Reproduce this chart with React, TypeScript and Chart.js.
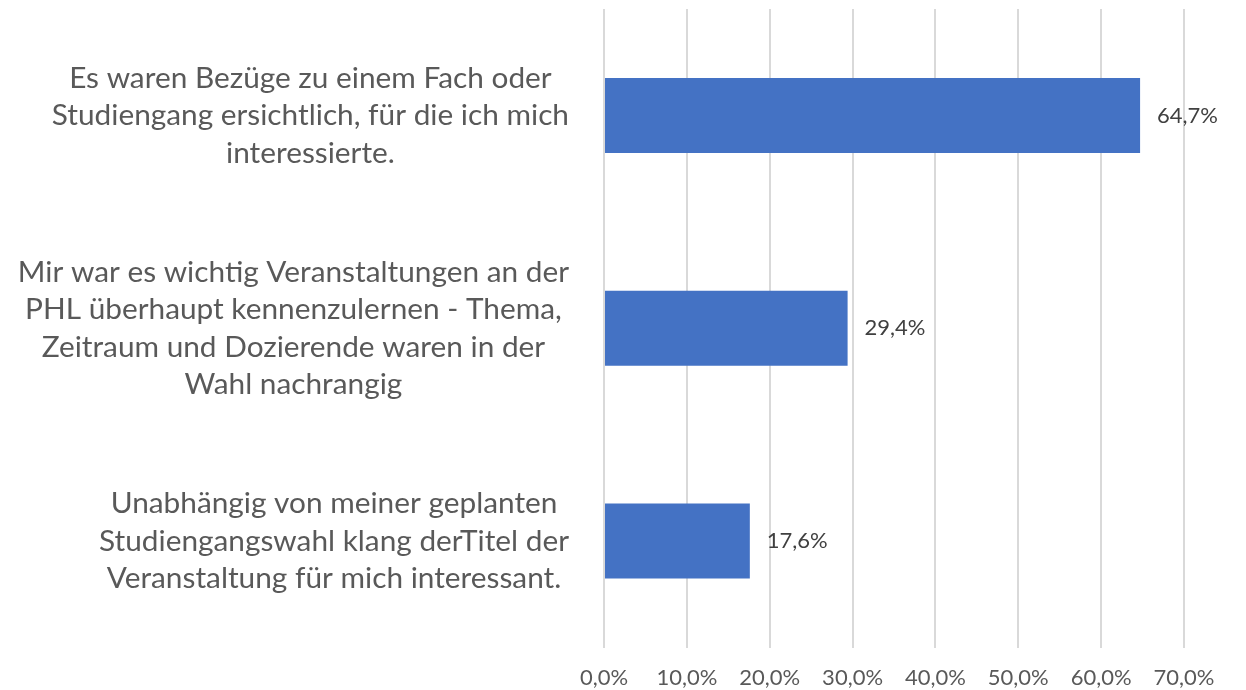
import React, { useEffect, useRef } from "react";
import { Chart, registerables } from "chart.js";

Chart.register(...registerables);

const categories: string[][] = [
  ["Es waren Bezüge zu einem Fach oder", "Studiengang ersichtlich, für die ich mich", "interessierte."],
  ["Mir war es wichtig Veranstaltungen an der", "PHL überhaupt kennenzulernen - Thema,", "Zeitraum und Dozierende waren in der", "Wahl nachrangig"],
  ["Unabhängig von meiner geplanten", "Studiengangswahl klang derTitel der", "Veranstaltung für mich interessant."],
];
const values: number[] = [64.7, 29.4, 17.6];
const xTicks: number[] = [0, 10, 20, 30, 40, 50, 60, 70];

const fmt = (v: number) => v.toFixed(1).replace(".", ",") + "%";

const LABEL_FONT = "29.8px Lato";
const LINE_H = 37.5;

const valueLabels = {
  id: "valueLabels",
  afterDatasetsDraw(chart: any) {
    const ctx = chart.ctx;
    const meta = chart.getDatasetMeta(0);
    ctx.save();
    ctx.font = "22px Lato";
    ctx.fillStyle = "#404040";
    ctx.textAlign = "left";
    ctx.textBaseline = "middle";
    meta.data.forEach((bar: any, i: number) => {
      ctx.fillText(fmt(values[i]), bar.x + 17, bar.y);
    });
    ctx.restore();
  },
};

const categoryLabels = {
  id: "categoryLabels",
  afterDraw(chart: any) {
    const ctx = chart.ctx;
    const yScale = chart.scales.y;
    const right = yScale.right - 35;
    ctx.save();
    ctx.font = LABEL_FONT;
    ctx.fillStyle = "#595959";
    ctx.textAlign = "center";
    ctx.textBaseline = "middle";
    categories.forEach((lines, i) => {
      const y = yScale.getPixelForValue(i);
      const w = Math.max(...lines.map((l) => ctx.measureText(l).width));
      const cx = right - w / 2;
      const y0 = y - ((lines.length - 1) * LINE_H) / 2;
      lines.forEach((l, j) => ctx.fillText(l, cx, y0 + j * LINE_H));
    });
    ctx.restore();
  },
};

export default function App() {
  const ref = useRef<HTMLCanvasElement>(null);
  useEffect(() => {
    document.body.style.margin = "0";
    const chart = new Chart(ref.current!, {
      type: "bar",
      data: {
        labels: categories.map((c) => c.join(" ")),
        datasets: [
          {
            data: values,
            backgroundColor: "#4472C4",
            borderWidth: 0,
            barPercentage: 0.352,
            categoryPercentage: 1,
          },
        ],
      },
      options: {
        indexAxis: "y",
        animation: false,
        responsive: false,
        maintainAspectRatio: false,
        layout: { padding: { top: 9, right: 62, left: 0, bottom: 0 } },
        plugins: { legend: { display: false }, tooltip: { enabled: false } },
        scales: {
          x: {
            min: 0,
            max: 70,
            afterFit: (s: any) => {
              s.height = 42.5;
              s.paddingLeft = 0;
              s.paddingRight = 0;
            },
            afterBuildTicks: (s: any) => {
              s.ticks = xTicks.map((v) => ({ value: v }));
            },
            grid: { color: "#d9d9d9", lineWidth: 2, drawTicks: false },
            border: { display: false },
            ticks: {
              padding: 17,
              color: "#595959",
              font: { family: "Lato", size: 22 },
              maxRotation: 0,
              callback: (v: any) => fmt(Number(v)),
            },
          },
          y: {
            afterFit: (s: any) => {
              s.width = 604;
              s.paddingTop = 0;
              s.paddingBottom = 0;
            },
            grid: { display: false },
            border: { display: false },
            ticks: { display: false },
          },
        },
      },
      plugins: [valueLabels, categoryLabels],
    });
    return () => chart.destroy();
  }, []);
  return (
    <div style={{ width: 1246, height: 690 }}>
      <canvas ref={ref} width={1246} height={690} style={{ display: "block" }} />
    </div>
  );
}
